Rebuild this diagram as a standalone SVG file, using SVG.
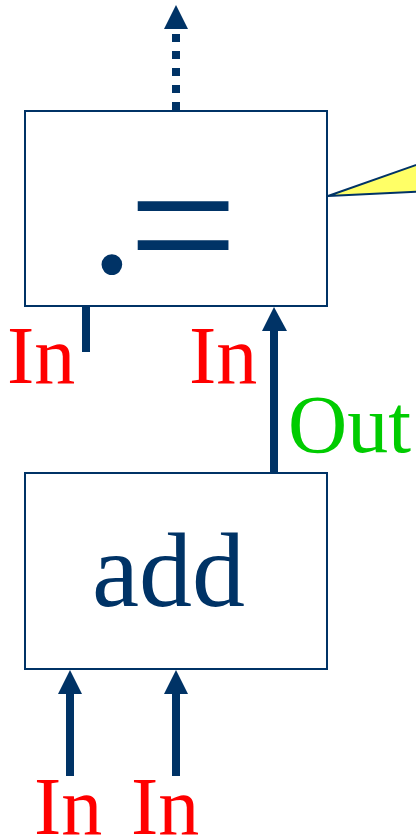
<svg xmlns="http://www.w3.org/2000/svg" width="416" height="840" viewBox="0 0 416 840">
  <style>
    .box { fill: #ffffff; stroke: #003366; stroke-width: 2; }
    .wire { stroke: #003366; stroke-width: 8; fill: none; }
    .head { fill: #003366; }
    .op { font-family: "Liberation Serif", "Times New Roman", serif; fill: #003366; }
    .port { font-family: "Liberation Serif", "Times New Roman", serif; font-size: 82px; fill: #ff0000; }
    .out { font-family: "Liberation Serif", "Times New Roman", serif; font-size: 82px; fill: #00cc00; }
  </style>
  <rect width="416" height="840" fill="#ffffff"/>

  <!-- callout pointer -->
  <g id="callout">
    <polygon points="328,196 430,160 430,191" fill="#ffff66" stroke="#003366" stroke-width="2" stroke-linejoin="miter"/>
  </g>

  <!-- connectors -->
  <g id="connectors">
    <!-- result out of the assign node (dotted) -->
    <line class="wire" x1="176" y1="110" x2="176" y2="30" stroke-dasharray="8 9"/>
    <polygon class="head" points="176,5 164,29 188,29"/>
    <!-- unconnected left input of the assign node -->
    <line class="wire" x1="86" y1="306" x2="86" y2="352"/>
    <!-- add output into assign right input -->
    <line class="wire" x1="274" y1="473" x2="274" y2="328"/>
    <polygon class="head" points="274,307 262,331 287,331"/>
    <!-- inputs of add -->
    <line class="wire" x1="70" y1="776" x2="70" y2="690"/>
    <polygon class="head" points="70,670 58,694 82,694"/>
    <line class="wire" x1="176" y1="776" x2="176" y2="690"/>
    <polygon class="head" points="176,670 164,694 188,694"/>
  </g>

  <g id="assign">
    <rect class="box" x="25" y="111" width="302" height="195"/>
    <text class="op" x="90" y="273" font-size="175">.<tspan x="128" y="290" font-size="195">=</tspan></text>
  </g>

  <g id="add">
    <rect class="box" x="25" y="473" width="302" height="196"/>
    <text class="op" x="92" y="606" font-size="106">add</text>
  </g>

  <g id="labels">
    <text class="port" x="7" y="383">In</text>
    <text class="port" x="189" y="383">In</text>
    <text class="out" x="288" y="452">Out</text>
    <text class="port" x="34" y="834">In</text>
    <text class="port" x="131" y="834">In</text>
  </g>
</svg>
